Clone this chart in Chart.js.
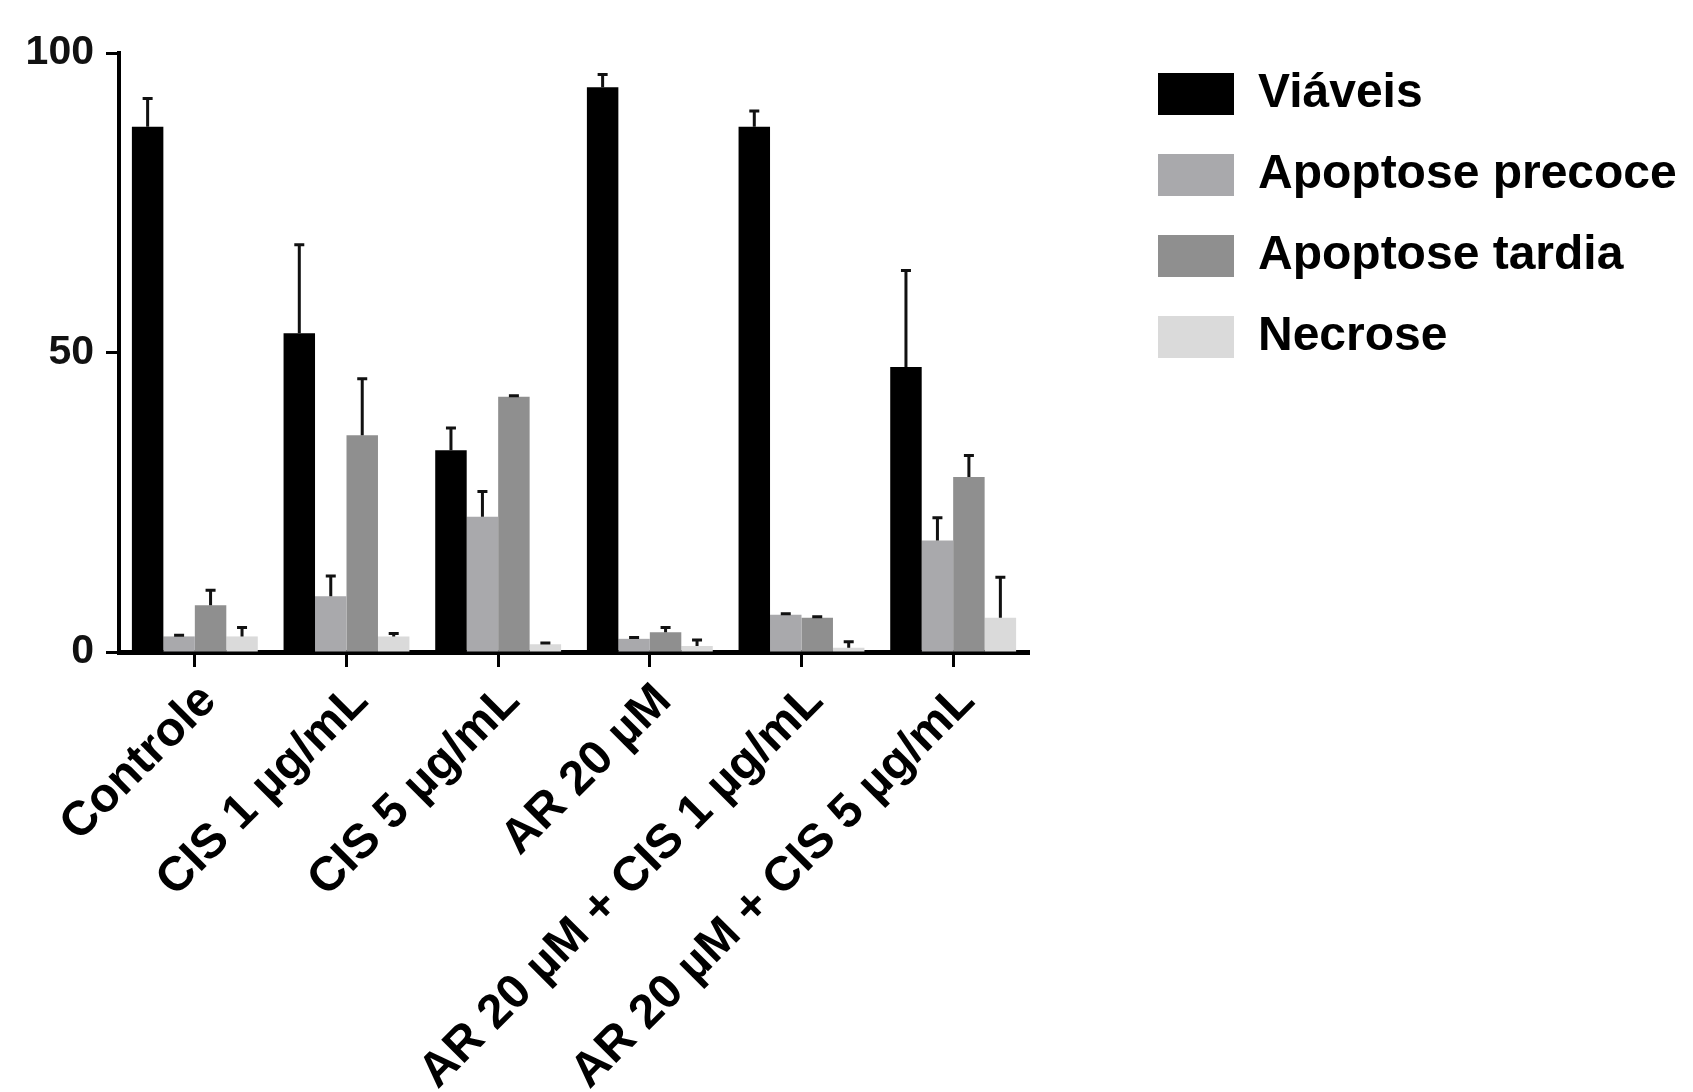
<!DOCTYPE html>
<html>
<head>
<meta charset="utf-8">
<script src="https://cdn.jsdelivr.net/npm/chart.js@4.4.1/dist/chart.umd.min.js"></script>
<style>
  html, body { margin: 0; padding: 0; background: #fff; }
</style>
</head>
<body>
<canvas id="cell-death-chart" width="1693" height="1092"></canvas>
<script>
const categories = ['Controle', 'CIS 1 µg/mL', 'CIS 5 µg/mL', 'AR 20 µM', 'AR 20 µM + CIS 1 µg/mL', 'AR 20 µM + CIS 5 µg/mL'];
const seriesNames = ['Viáveis', 'Apoptose precoce', 'Apoptose tardia', 'Necrose'];

const viaveis = [87.7, 53.2, 33.7, 94.3, 87.7, 47.6];
const precoce = [2.6, 9.3, 22.6, 2.2, 6.2, 18.6];
const tardia = [7.8, 36.2, 42.6, 3.3, 5.7, 29.2];
const necrose = [2.6, 2.6, 1.3, 1.0, 0.7, 5.7];

// upper error (SD) for each bar
const viaveisErr = [4.7, 14.8, 3.7, 2.1, 2.6, 16.1];
const precoceErr = [0.2, 3.4, 4.2, 0.2, 0.2, 3.8];
const tardiaErr = [2.5, 9.4, 0.2, 0.8, 0.2, 3.6];
const necroseErr = [1.5, 0.5, 0.2, 1.0, 1.0, 6.8];

const yTicks = [0, 50, 100];

const colors = ['#000000', '#a9a9ac', '#8f8f8f', '#dadada'];
const font = "'Liberation Sans', Arial, sans-serif";

// draws the upper error bars on top of each bar
const errorBars = {
  id: 'errorBars',
  afterDatasetsDraw(chart) {
    const ctx = chart.ctx;
    const yScale = chart.scales.y;
    ctx.save();
    ctx.strokeStyle = '#111';
    ctx.lineWidth = 3;
    chart.data.datasets.forEach((ds, i) => {
      const meta = chart.getDatasetMeta(i);
      meta.data.forEach((bar, j) => {
        const err = ds.errors[j];
        if (!err) return;
        const top = yScale.getPixelForValue(ds.data[j] + err);
        ctx.beginPath();
        ctx.moveTo(bar.x, bar.y);
        ctx.lineTo(bar.x, top);
        ctx.moveTo(bar.x - 5, top);
        ctx.lineTo(bar.x + 5, top);
        ctx.stroke();
      });
    });
    ctx.restore();
  }
};

const ctx = document.getElementById('cell-death-chart').getContext('2d');
new Chart(ctx, {
  type: 'bar',
  data: {
    labels: categories,
    datasets: [
      { label: seriesNames[0], data: viaveis, errors: viaveisErr, backgroundColor: colors[0] },
      { label: seriesNames[1], data: precoce, errors: precoceErr, backgroundColor: colors[1] },
      { label: seriesNames[2], data: tardia, errors: tardiaErr, backgroundColor: colors[2] },
      { label: seriesNames[3], data: necrose, errors: necroseErr, backgroundColor: colors[3] }
    ]
  },
  options: {
    responsive: false,
    animation: false,
    datasets: {
      bar: { categoryPercentage: 0.83, barPercentage: 1.0, borderWidth: 0 }
    },
    layout: { padding: { top: 37, left: 27, right: 8, bottom: 0 } },
    plugins: {
      tooltip: { enabled: false },
      legend: {
        position: 'right',
        align: 'start',
        maxWidth: 560,
        labels: {
          boxWidth: 76,
          boxHeight: 42,
          padding: 33,
          color: '#000',
          font: { family: font, size: 48, weight: 'bold' }
        }
      }
    },
    scales: {
      x: {
        grid: {
          display: true,
          drawOnChartArea: false,
          offset: false,
          tickLength: 15,
          tickWidth: 3,
          tickColor: '#000'
        },
        border: { display: true, width: 5, color: '#000' },
        ticks: {
          color: '#000',
          maxRotation: 45,
          minRotation: 45,
          padding: 6,
          labelOffset: 14,
          font: { family: font, size: 48, weight: 'bold' }
        },
        afterFit: (scale) => { scale.height = 440; }
      },
      y: {
        min: 0,
        max: 100,
        afterBuildTicks: (scale) => { scale.ticks = yTicks.map(v => ({ value: v })); },
        grid: {
          display: true,
          drawOnChartArea: false,
          tickLength: 13,
          tickWidth: 3,
          tickColor: '#000'
        },
        border: { display: true, width: 4, color: '#000' },
        ticks: {
          color: '#111',
          padding: 12,
          font: { family: font, size: 41, weight: 'bold', lineHeight: 2 }
        },
        afterFit: (scale) => { scale.width = 92; }
      },
      // empty axis, keeps the gap between the plot and the legend
      gap: {
        type: 'linear',
        position: 'right',
        display: true,
        grid: { display: false },
        border: { display: false },
        ticks: { display: false },
        afterFit: (scale) => { scale.width = 96; }
      }
    }
  },
  plugins: [errorBars]
});
</script>
</body>
</html>
